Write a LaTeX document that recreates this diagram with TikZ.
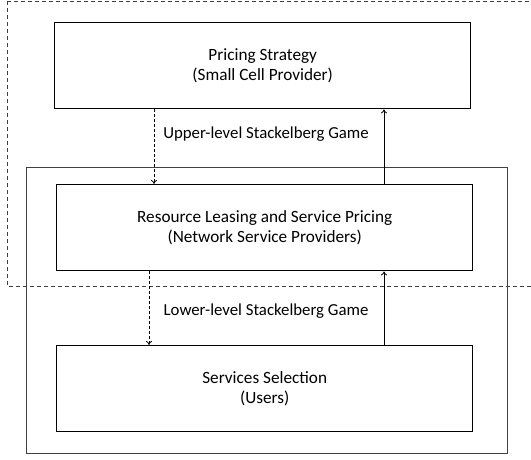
\documentclass[tikz,border=0pt]{standalone}
\usepackage{fontspec}
\setmainfont{Carlito}
\usetikzlibrary{arrows.meta}
\begin{document}
\begin{tikzpicture}[x=1pt,y=-1pt,
  stagebox/.style={draw,line width=1.4pt,minimum width=416pt,minimum height=86pt,inner sep=0pt,align=center,font=\fontsize{17.2}{20.5}\selectfont,anchor=north west},
  conn/.style={line width=0.8pt,-{To[length=4pt,width=6pt]}},
  dconn/.style={conn,dash pattern=on 3pt off 2pt},
  lbl/.style={font=\fontsize{16.8}{20}\selectfont,inner sep=0pt}]
\useasboundingbox (0,0) rectangle (531,460);
\clip (0,0) rectangle (531,460);
\fill[white] (0,0) rectangle (531,460);
\draw[line width=0.8pt,dash pattern=on 4pt off 3pt,black!75] (7,1) -- (540,1) (7,1) -- (7,286) -- (540,286);
\draw[line width=0.9pt,black!75] (26,167) rectangle (507,453);
\node[stagebox] (b1) at (54,22) {Pricing Strategy\\(Small Cell Provider)};
\node[stagebox] (b2) at (56,184) {Resource Leasing and Service Pricing\\(Network Service Providers)};
\node[stagebox] (b3) at (56,345) {Services Selection\\(Users)};
\coordinate (ux) at (384,0);
\coordinate (dx1) at (154,0);
\coordinate (dx2) at (149,0);
\draw[dconn] (b1.south -| dx1) -- (b2.north -| dx1);
\draw[conn] (b2.north -| ux) -- (b1.south -| ux);
\draw[dconn] (b2.south -| dx2) -- (b3.north -| dx2);
\draw[conn] (b3.north -| ux) -- (b2.south -| ux);
\node[lbl] (l1) at (266,134) {Upper-level Stackelberg Game};
\node[lbl] (l2) at (266,311) {Lower-level Stackelberg Game};
\end{tikzpicture}
\end{document}
